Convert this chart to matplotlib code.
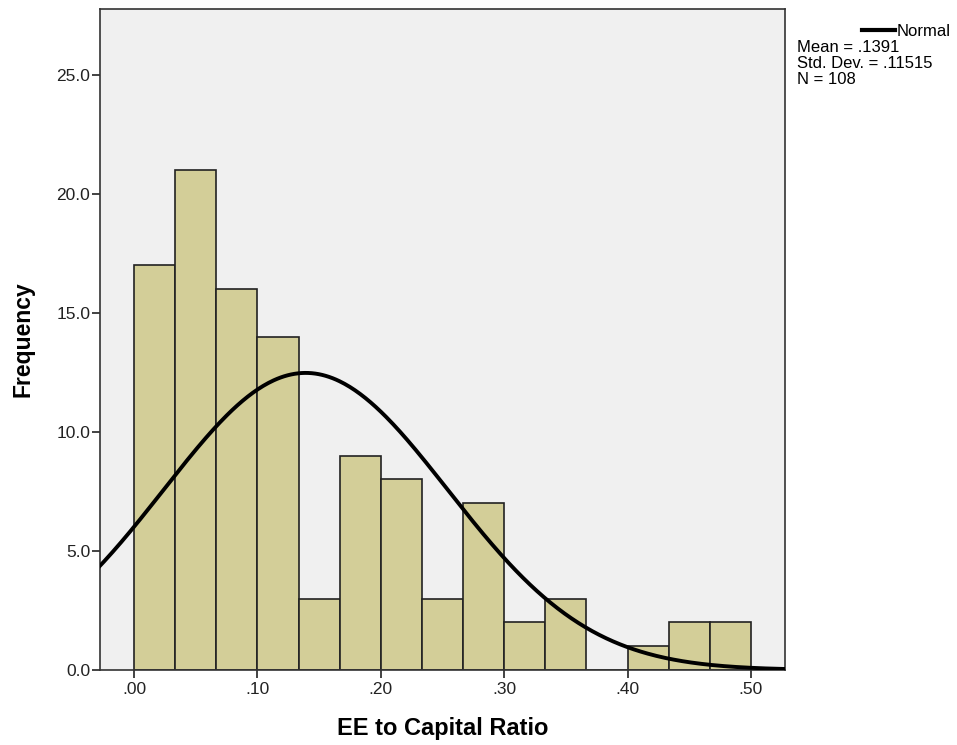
import numpy as np
import matplotlib.pyplot as plt

# histogram bins (width 1/30) and counts
bin_edges = np.linspace(0.0, 0.5, 16)
counts = [17, 21, 16, 14, 3, 9, 8, 3, 7, 2, 3, 0, 1, 2, 2]
mean = 0.1391
std = 0.11515
n = 108

x_ticks = [0.0, 0.1, 0.2, 0.3, 0.4, 0.5]
x_labels = [".00", ".10", ".20", ".30", ".40", ".50"]
y_ticks = [0, 5, 10, 15, 20, 25]
y_labels = ["0.0", "5.0", "10.0", "15.0", "20.0", "25.0"]

plt.rcParams['font.family'] = ['Liberation Sans', 'DejaVu Sans']

fig = plt.figure(figsize=(9.57, 7.45), dpi=100)
ax = fig.add_axes([100 / 957, 75 / 745, 685 / 957, 661 / 745])
ax.set_facecolor('#F0F0F0')

widths = np.diff(bin_edges)
ax.bar(bin_edges[:-1], counts, width=widths, align='edge',
       color='#D3CE98', edgecolor='#222222', linewidth=1.2, zorder=2)

# normal curve scaled to the histogram
xs = np.linspace(-0.03, 0.53, 400)
ys = n * widths[0] * np.exp(-0.5 * ((xs - mean) / std) ** 2) / (std * np.sqrt(2 * np.pi))
ax.plot(xs, ys, color='black', linewidth=2.8, zorder=3)

ax.set_xlim(-0.0276, 0.5276)
ax.set_ylim(0, 27.75)
ax.set_xticks(x_ticks)
ax.set_xticklabels(x_labels)
ax.set_yticks(y_ticks)
ax.set_yticklabels(y_labels)
ax.tick_params(direction='out', length=6, width=1.2, labelsize=12.5, color='#222222',
               labelcolor='#222222')
ax.tick_params(axis='y', pad=1)
ax.tick_params(axis='x', pad=3)
for s in ax.spines.values():
    s.set_color('#333333')
    s.set_linewidth(1.2)

ax.set_xlabel('EE to Capital Ratio', fontsize=17, fontweight='bold', labelpad=14)
ax.set_ylabel('Frequency', fontsize=16.5, fontweight='bold', labelpad=16)

# legend outside the plot, SPSS style
fig.add_artist(plt.Line2D([862 / 957, 895 / 957], [1 - 30 / 745, 1 - 30 / 745],
                          color='black', linewidth=3))
fig.text(897 / 957, 1 - 31 / 745, 'Normal', fontsize=12, va='center')
fig.text(797 / 957, 1 - 47 / 745, 'Mean = .1391', fontsize=12, va='center')
fig.text(797 / 957, 1 - 63 / 745, 'Std. Dev. = .11515', fontsize=12, va='center')
fig.text(797 / 957, 1 - 79 / 745, 'N = 108', fontsize=12, va='center')

fig.savefig('out.png', dpi=100)
